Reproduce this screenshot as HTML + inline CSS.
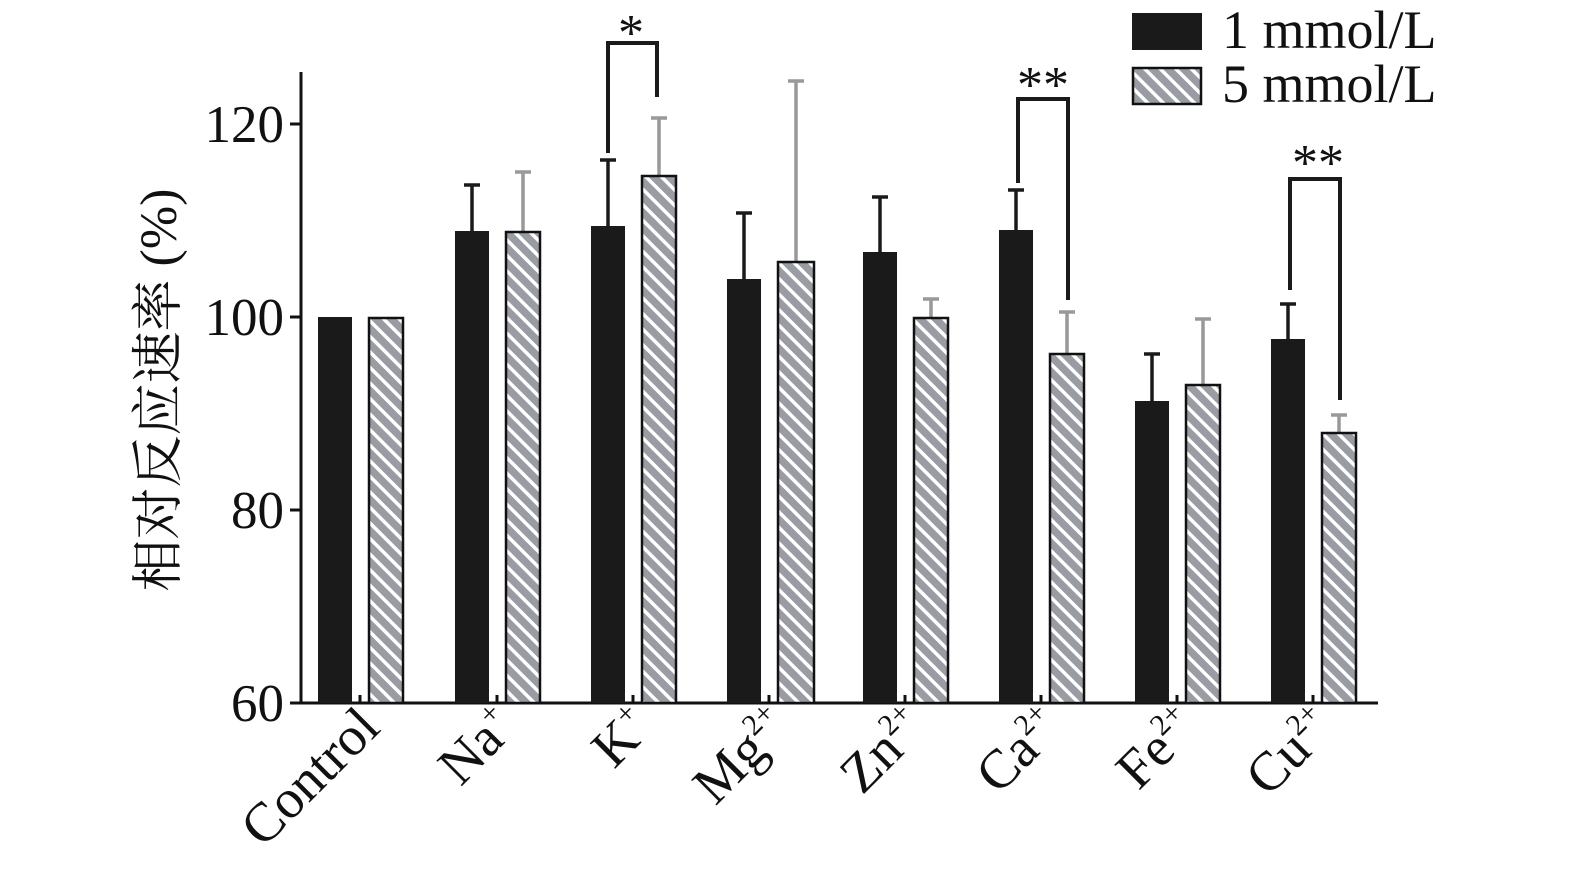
<!DOCTYPE html>
<html><head><meta charset="utf-8"><style>body{margin:0;background:#fff}</style></head>
<body>
<svg width="1575" height="883" viewBox="0 0 1575 883" xmlns="http://www.w3.org/2000/svg" font-family="Liberation Serif, serif">
<defs>
<pattern id="h" patternUnits="userSpaceOnUse" width="11" height="11" patternTransform="rotate(-45)">
<rect width="11" height="11" fill="#9a9ca4"/>
<rect width="3.5" height="11" fill="#fff"/>
</pattern>
</defs>
<line x1="301" y1="72" x2="301" y2="704" stroke="#111" stroke-width="3"/>
<line x1="300" y1="703" x2="1378" y2="703" stroke="#111" stroke-width="3"/>
<g stroke="#111" stroke-width="3">
<line x1="290" y1="124" x2="301" y2="124"/><line x1="290" y1="317" x2="301" y2="317"/>
<line x1="290" y1="510" x2="301" y2="510"/><line x1="290" y1="703" x2="301" y2="703"/>
</g>
<g font-size="53" text-anchor="end" fill="#111">
<text x="284" y="142">120</text><text x="284" y="335">100</text>
<text x="284" y="528">80</text><text x="284" y="721">60</text>
</g>
<text transform="translate(176,390) rotate(-90)" font-size="52" text-anchor="middle" font-family="Liberation Serif, Noto Serif CJK SC, serif" fill="#111">相对反应速率 (%)</text>
<g stroke="#1a1a1a" stroke-width="3.5">
<line x1="472" y1="231" x2="472" y2="184"/><line x1="464" y1="185" x2="480" y2="185"/>
<line x1="608" y1="226" x2="608" y2="159"/><line x1="600" y1="160" x2="616" y2="160"/>
<line x1="744" y1="279" x2="744" y2="212"/><line x1="736" y1="213" x2="752" y2="213"/>
<line x1="880" y1="252" x2="880" y2="196"/><line x1="872" y1="197" x2="888" y2="197"/>
<line x1="1016" y1="230" x2="1016" y2="189"/><line x1="1008" y1="190" x2="1024" y2="190"/>
<line x1="1152" y1="401" x2="1152" y2="353"/><line x1="1144" y1="354" x2="1160" y2="354"/>
<line x1="1288" y1="339" x2="1288" y2="303"/><line x1="1280" y1="304" x2="1296" y2="304"/>
</g>
<g stroke="#999" stroke-width="3.5">
<line x1="523" y1="232" x2="523" y2="171"/><line x1="515" y1="172" x2="531" y2="172"/>
<line x1="659" y1="176" x2="659" y2="117"/><line x1="651" y1="118" x2="667" y2="118"/>
<line x1="796" y1="262" x2="796" y2="80"/><line x1="788" y1="81" x2="804" y2="81"/>
<line x1="931" y1="318" x2="931" y2="298"/><line x1="923" y1="299" x2="939" y2="299"/>
<line x1="1067" y1="354" x2="1067" y2="311"/><line x1="1059" y1="312" x2="1075" y2="312"/>
<line x1="1203" y1="385" x2="1203" y2="318"/><line x1="1195" y1="319" x2="1211" y2="319"/>
<line x1="1339" y1="433" x2="1339" y2="414"/><line x1="1331" y1="415" x2="1347" y2="415"/>
</g>
<g fill="#1a1a1a">
<rect x="318" y="317" width="34" height="386"/>
<rect x="455" y="231" width="34" height="472"/>
<rect x="591" y="226" width="34" height="477"/>
<rect x="727" y="279" width="34" height="424"/>
<rect x="863" y="252" width="34" height="451"/>
<rect x="999" y="230" width="34" height="473"/>
<rect x="1135" y="401" width="34" height="302"/>
<rect x="1271" y="339" width="34" height="364"/>
</g>
<g fill="url(#h)" stroke="#111" stroke-width="2.5">
<rect x="369" y="318" width="34" height="385"/>
<rect x="506" y="232" width="34" height="471"/>
<rect x="642" y="176" width="34" height="527"/>
<rect x="778" y="262" width="36" height="441"/>
<rect x="914" y="318" width="34" height="385"/>
<rect x="1050" y="354" width="34" height="349"/>
<rect x="1186" y="385" width="34" height="318"/>
<rect x="1322" y="433" width="34" height="270"/>
</g>
<g stroke="#111" stroke-width="3">
<line x1="360" y1="703" x2="360" y2="695"/><line x1="497" y1="703" x2="497" y2="695"/>
<line x1="633" y1="703" x2="633" y2="695"/><line x1="769" y1="703" x2="769" y2="695"/>
<line x1="905" y1="703" x2="905" y2="695"/><line x1="1041" y1="703" x2="1041" y2="695"/>
<line x1="1177" y1="703" x2="1177" y2="695"/><line x1="1313" y1="703" x2="1313" y2="695"/>
</g>
<g fill="none" stroke="#1a1a1a" stroke-width="4">
<polyline points="608,153 608,43 657,43 657,97"/>
<polyline points="1018,183 1018,99 1068,99 1068,300"/>
<polyline points="1290,290 1290,179 1340,179 1340,400"/>
</g>
<g font-size="52" text-anchor="middle" fill="#111">
<text x="631" y="50">*</text>
<text x="1043" y="102">**</text>
<text x="1318" y="180">**</text>
</g>
<rect x="1132" y="13" width="70" height="37" fill="#1a1a1a"/>
<rect x="1133" y="68" width="68" height="36" fill="url(#h)" stroke="#111" stroke-width="2.5"/>
<g font-size="54" fill="#111">
<text x="1222" y="48">1 mmol/L</text>
<text x="1222" y="102">5 mmol/L</text>
</g>
<g font-size="55" text-anchor="end" fill="#111">
<text transform="translate(382,730) rotate(-45)">Control</text>
<text transform="translate(518,730) rotate(-45)">Na<tspan font-size="30" dy="-22">+</tspan></text>
<text transform="translate(654,730) rotate(-45)">K<tspan font-size="30" dy="-22">+</tspan></text>
<text transform="translate(792,730) rotate(-45)">Mg<tspan font-size="30" dy="-22">2+</tspan></text>
<text transform="translate(928,730) rotate(-45)">Zn<tspan font-size="30" dy="-22">2+</tspan></text>
<text transform="translate(1064,730) rotate(-45)">Ca<tspan font-size="30" dy="-22">2+</tspan></text>
<text transform="translate(1200,730) rotate(-45)">Fe<tspan font-size="30" dy="-22">2+</tspan></text>
<text transform="translate(1336,730) rotate(-45)">Cu<tspan font-size="30" dy="-22">2+</tspan></text>
</g>
</svg>
</body></html>
